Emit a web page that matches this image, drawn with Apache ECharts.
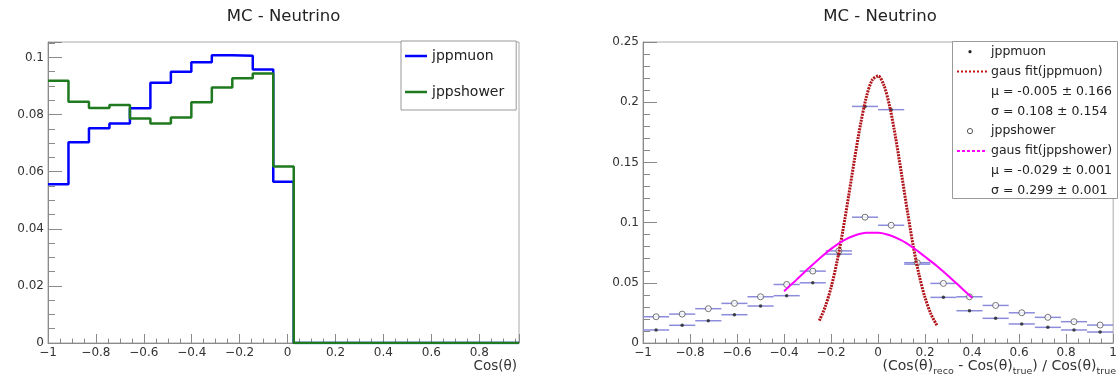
<!DOCTYPE html>
<html><head><meta charset="utf-8">
<script src="https://cdn.jsdelivr.net/npm/echarts@6/dist/echarts.min.js"></script>
<style>html,body{margin:0;padding:0;background:#fff}#c{width:1120px;height:378px}</style>
</head><body><div id="c"></div>
<script>
// ---------- Left panel: Cos(theta) histograms (23 bins from -1 to 0.966) ----------
const histMin = -1, histMax = 0.966, histBins = 23;
const muonHist = [0.0556, 0.0703, 0.0752, 0.0769, 0.0822, 0.0911, 0.0950, 0.0983, 0.1008, 0.1006, 0.0958, 0.0565,
                  0, 0, 0, 0, 0, 0, 0, 0, 0, 0, 0];
const showerHist = [0.0918, 0.0845, 0.0823, 0.0833, 0.0786, 0.0769, 0.0790, 0.0843, 0.0895, 0.0927, 0.0944, 0.0618,
                    0, 0, 0, 0, 0, 0, 0, 0, 0, 0, 0];
const leftXTicks = [-1, -0.8, -0.6, -0.4, -0.2, 0, 0.2, 0.4, 0.6, 0.8];
const leftYTicks = [0, 0.02, 0.04, 0.06, 0.08, 0.1];

// ---------- Right panel: resolution (18 bins from -1 to 1) ----------
const resBinCenters = [-0.9444, -0.8333, -0.7222, -0.6111, -0.5, -0.3889, -0.2778, -0.1667, -0.0556,
                       0.0556, 0.1667, 0.2778, 0.3889, 0.5, 0.6111, 0.7222, 0.8333, 0.9444];
const resBinHalfWidth = 0.0556;
const muonRes = [0.0108, 0.0147, 0.0185, 0.0235, 0.0307, 0.0393, 0.0500, 0.0738, 0.1965,
                 0.1938, 0.0655, 0.0379, 0.0268, 0.0205, 0.0158, 0.0130, 0.0108, 0.0091];
const showerRes = [0.0218, 0.0240, 0.0285, 0.0329, 0.0384, 0.0486, 0.0597, 0.0765, 0.1045,
                   0.0978, 0.0667, 0.0495, 0.0384, 0.0312, 0.0251, 0.0213, 0.0177, 0.0149];
const muonFitX = [-0.25, -0.225, -0.2, -0.175, -0.15, -0.125, -0.1, -0.075, -0.05, -0.025, 0,
                  0.025, 0.05, 0.075, 0.1, 0.125, 0.15, 0.175, 0.2, 0.225, 0.25];
const muonFitY = [0.0186, 0.0300, 0.0461, 0.0673, 0.0931, 0.1225, 0.1529, 0.1813, 0.2042, 0.2184, 0.2218,
                  0.2139, 0.1959, 0.1700, 0.1400, 0.1090, 0.0800, 0.0560, 0.0375, 0.0240, 0.0148];
const showerFitX = [-0.4, -0.35, -0.3, -0.25, -0.2, -0.15, -0.1, -0.05, 0, 0.05, 0.1, 0.15, 0.2, 0.25, 0.3, 0.35, 0.4];
const showerFitY = [0.0430, 0.0520, 0.0612, 0.0700, 0.0782, 0.0848, 0.0893, 0.0916, 0.0916, 0.0895,
                    0.0852, 0.0790, 0.0716, 0.0640, 0.0555, 0.0465, 0.0375];
const rightXTicks = [-1, -0.8, -0.6, -0.4, -0.2, 0, 0.2, 0.4, 0.6, 0.8, 1];
const rightYTicks = [0, 0.05, 0.1, 0.15, 0.2, 0.25];
const legendRows = ['jppmuon', 'gaus fit(jppmuon)', 'μ = -0.005 ± 0.166', 'σ = 0.108 ± 0.154',
                    'jppshower', 'gaus fit(jppshower)', 'μ = -0.029 ± 0.001', 'σ = 0.299 ± 0.001'];

// ---------- build ----------
(function () {
const FONT = 'DejaVu Sans';
const AX = '#8a8a8a';
function histToStep(vals) {
  const w = (histMax - histMin) / histBins;
  const pts = vals.map((v, i) => [histMin + i * w, v]);
  pts.push([histMax, vals[vals.length - 1]]);
  return pts;
}
function fmtNum(v) {
  const r = Math.round(v * 1000) / 1000;
  return r < 0 ? '\u2212' + String(-r) : String(r);
}
function xAxisCfg(gi, min, max, interval, ticks) {
  return {
    type: 'value', gridIndex: gi, min: min, max: max, interval: interval,
    axisLine: {show: true, onZero: false, lineStyle: {color: AX, width: 1}},
    axisTick: {show: true, inside: true, length: 9, lineStyle: {color: AX}},
    minorTick: {show: true, splitNumber: 4, length: 4.5, lineStyle: {color: AX}},
    splitLine: {show: false}, minorSplitLine: {show: false},
    axisLabel: {margin: 4, color: '#333', fontFamily: FONT, fontSize: 12, showMaxLabel: ticks.indexOf(max) >= 0,
      formatter: v => fmtNum(v)}
  };
}
function yAxisCfg(gi, min, max, interval, minorSplit, ticks) {
  return {
    type: 'value', gridIndex: gi, min: min, max: max, interval: interval,
    axisLine: {show: true, onZero: false, lineStyle: {color: AX, width: 1}},
    axisTick: {show: true, inside: true, length: 14, lineStyle: {color: AX}},
    minorTick: {show: true, splitNumber: minorSplit, length: 7, lineStyle: {color: AX}},
    splitLine: {show: false}, minorSplitLine: {show: false},
    axisLabel: {margin: 4, color: '#333', fontFamily: FONT, fontSize: 12, showMaxLabel: ticks.indexOf(max) >= 0,
      formatter: v => fmtNum(v)}
  };
}
function errBar(color) {
  return function (params, api) {
    const x = api.value(0), y = api.value(1), hw = api.value(2);
    const p1 = api.coord([x - hw, y]), p2 = api.coord([x + hw, y]);
    return {type: 'line', shape: {x1: p1[0], y1: p1[1], x2: p2[0], y2: p2[1]},
            style: {stroke: color, lineWidth: 1.5}};
  };
}

const lx0 = 48, lx1 = 519, rx0 = 643, rx1 = 1117, gTop = 42, gBottom = 343;

const legendGraphics = [];
const legX = 952, legY = 41, legW = 165, legH = 157, rowY0 = 51.7, rowStep = 19.85;
legendGraphics.push({type: 'rect', shape: {x: legX + 0.5, y: legY + 0.5, width: legW, height: legH},
  style: {fill: '#fff', stroke: '#999', lineWidth: 1}, z: 10});
legendRows.forEach((t, i) => {
  legendGraphics.push({type: 'text', x: 991, y: rowY0 + i * rowStep, z: 11,
    style: {text: t, fontFamily: FONT, fontSize: 12.5, fill: '#222', verticalAlign: 'middle', align: 'left'}});
});
legendGraphics.push({type: 'circle', shape: {cx: 970, cy: rowY0, r: 1.6}, style: {fill: '#222'}, z: 11});
legendGraphics.push({type: 'line', shape: {x1: 957, y1: rowY0 + rowStep, x2: 987, y2: rowY0 + rowStep},
  style: {stroke: '#c01818', lineWidth: 2, lineDash: [2, 2]}, z: 11});
legendGraphics.push({type: 'circle', shape: {cx: 970, cy: rowY0 + 4 * rowStep, r: 2.6},
  style: {fill: '#fff', stroke: '#555', lineWidth: 1}, z: 11});
legendGraphics.push({type: 'line', shape: {x1: 957, y1: rowY0 + 5 * rowStep, x2: 987, y2: rowY0 + 5 * rowStep},
  style: {stroke: '#ff00ff', lineWidth: 2, lineDash: [3, 2]}, z: 11});

const option = {
  animation: false,
  backgroundColor: '#fff',
  textStyle: {fontFamily: FONT},
  grid: [
    {left: lx0, top: gTop, width: lx1 - lx0, height: gBottom - gTop, show: true, borderColor: '#aaa', borderWidth: 1},
    {left: rx0, top: gTop, width: rx1 - rx0, height: gBottom - gTop, show: true, borderColor: '#aaa', borderWidth: 1}
  ],
  xAxis: [
    xAxisCfg(0, histMin, histMax, 0.2, leftXTicks),
    xAxisCfg(1, -1, 1, 0.2, rightXTicks)
  ],
  yAxis: [
    yAxisCfg(0, 0, 0.1054, 0.02, 4, leftYTicks),
    yAxisCfg(1, 0, 0.25, 0.05, 5, rightYTicks)
  ],
  legend: {
    data: ['jppmuon', 'jppshower'], orient: 'vertical', left: 401, top: 41,
    icon: 'rect', itemWidth: 22, itemHeight: 2.5, itemGap: 22,
    padding: [8, 12, 11, 4], backgroundColor: '#fff', borderColor: '#999', borderWidth: 1,
    textStyle: {fontFamily: FONT, fontSize: 14, color: '#222'}, selectedMode: false, z: 10
  },
  series: [
    {name: 'jppmuon', type: 'line', xAxisIndex: 0, yAxisIndex: 0, step: 'end', showSymbol: false,
     data: histToStep(muonHist), color: '#0000ff', lineStyle: {color: '#0000ff', width: 2.5}, z: 3},
    {name: 'jppshower', type: 'line', xAxisIndex: 0, yAxisIndex: 0, step: 'end', showSymbol: false,
     data: histToStep(showerHist), color: '#1f7a1f', lineStyle: {color: '#1f7a1f', width: 2.5}, z: 4},

    {name: 'muon-res-err', type: 'custom', xAxisIndex: 1, yAxisIndex: 1, renderItem: errBar('#8c8cdc'),
     data: resBinCenters.map((c, i) => [c, muonRes[i], resBinHalfWidth]), z: 2},
    {name: 'shower-res-err', type: 'custom', xAxisIndex: 1, yAxisIndex: 1, renderItem: errBar('#8c8cdc'),
     data: resBinCenters.map((c, i) => [c, showerRes[i], resBinHalfWidth]), z: 2},
    {name: 'muon-res', type: 'scatter', xAxisIndex: 1, yAxisIndex: 1, symbol: 'circle', symbolSize: 3.5,
     itemStyle: {color: '#222'}, data: resBinCenters.map((c, i) => [c, muonRes[i]]), z: 3},
    {name: 'shower-res', type: 'scatter', xAxisIndex: 1, yAxisIndex: 1, symbol: 'circle', symbolSize: 6,
     itemStyle: {color: '#fff', borderColor: '#555', borderWidth: 1},
     data: resBinCenters.map((c, i) => [c, showerRes[i]]), z: 3},
    {name: 'gaus fit(jppmuon)', type: 'line', xAxisIndex: 1, yAxisIndex: 1, smooth: 0.3, showSymbol: false,
     data: muonFitX.map((x, i) => [x, muonFitY[i]]),
     lineStyle: {color: '#b0141a', width: 3, type: [2, 1]}, z: 5},
    {name: 'gaus fit(jppshower)', type: 'line', xAxisIndex: 1, yAxisIndex: 1, smooth: 0.3, showSymbol: false,
     data: showerFitX.map((x, i) => [x, showerFitY[i]]),
     lineStyle: {color: '#ff00ff', width: 2}, z: 5}
  ],
  graphic: [
    {type: 'text', x: (lx0 + lx1) / 2, y: 17, style: {text: 'MC - Neutrino', fontFamily: FONT, fontSize: 16.5,
      fill: '#222', align: 'center', verticalAlign: 'middle'}},
    {type: 'text', x: (rx0 + rx1) / 2, y: 17, style: {text: 'MC - Neutrino', fontFamily: FONT, fontSize: 16.5,
      fill: '#222', align: 'center', verticalAlign: 'middle'}},
    {type: 'text', x: 517, y: 366, style: {text: 'Cos(θ)', fontFamily: FONT, fontSize: 13.5, fill: '#333',
      align: 'right', verticalAlign: 'middle'}},
    {type: 'text', x: 1116, y: 368, style: {
      text: '{n|(Cos(θ)}{s|reco}{n| - Cos(θ)}{s|true}{n|) / Cos(θ)}{s|true}',
      align: 'right', verticalAlign: 'middle',
      rich: {
        n: {fontFamily: FONT, fontSize: 14, fill: '#333', lineHeight: 18, verticalAlign: 'top'},
        s: {fontFamily: FONT, fontSize: 9.5, fill: '#333', lineHeight: 9, verticalAlign: 'bottom'}
      }}}
  ].concat(legendGraphics)
};
const chart = echarts.init(document.getElementById('c'), null, {renderer: 'canvas'});
chart.setOption(option);
})();
</script>
</body></html>
